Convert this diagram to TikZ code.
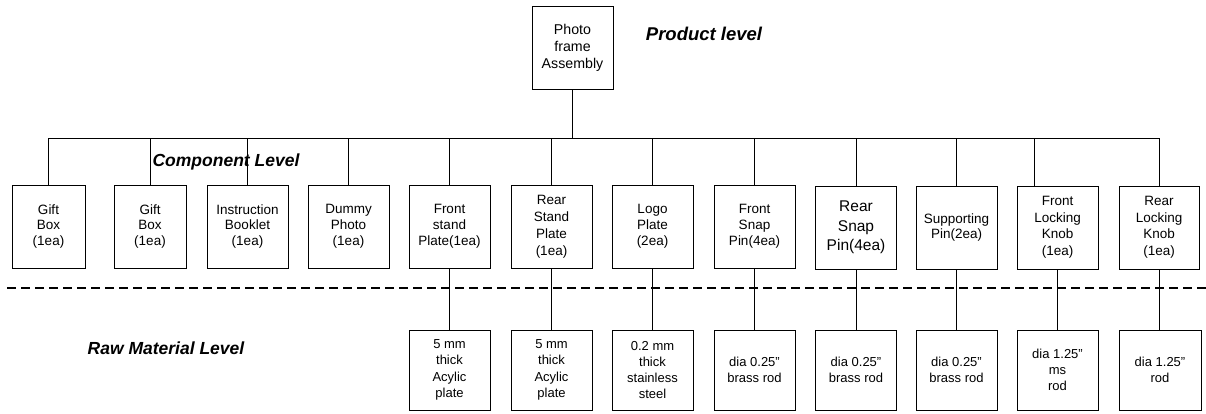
\documentclass[tikz,border=0pt]{standalone}
\usepackage{fontspec}
\setmainfont{Liberation Sans}
\newcommand{\qq}{\symbol{34}}
\begin{document}
\begin{tikzpicture}[x=1pt,y=-1pt,
  line width=0.8pt,
  box/.style={draw, line width=0.8pt, align=center, inner sep=0pt, minimum width=81pt, minimum height=83pt, font=\fontsize{13.5}{15.8}\selectfont},
  narrow/.style={minimum width=73pt},
  raw/.style={draw, line width=0.8pt, align=center, inner sep=0pt, minimum width=81pt, minimum height=80pt, font=\fontsize{13}{16.3}\selectfont},
  lvl/.style={font=\fontsize{17.5}{20}\selectfont\bfseries\itshape, inner sep=0pt},
  conn/.style={line width=0.8pt},
  sep/.style={line width=1.6pt, dash pattern=on 9pt off 5pt}]
\useasboundingbox (0,0) rectangle (1206,414);

% product
\node[box, font=\fontsize{14.2}{17}\selectfont] (top) at (572.5,47.5) {Photo\\frame\\Assembly};
\node[lvl, font=\fontsize{18.5}{20}\selectfont\bfseries\itshape] (plbl) at (704,34) {Product level};

% components
\node[box,narrow] (c1) at (48.5,226.5) {Gift\\Box\\(1ea)};
\node[box,narrow,minimum width=72pt] (c2) at (150,226.5) {Gift\\Box\\(1ea)};
\node[box] (c3) at (247.5,226.5) {Instruction\\Booklet\\(1ea)};
\node[box] (c4) at (348.5,226.5) {Dummy\\Photo\\(1ea)};
\node[box] (c5) at (449.5,226.5) {Front\\stand\\Plate(1ea)};
\node[box, font=\fontsize{13.5}{17}\selectfont] (c6) at (551.5,226.5) {Rear\\Stand\\Plate\\(1ea)};
\node[box] (c7) at (652.5,226.5) {Logo\\Plate\\(2ea)};
\node[box] (c8) at (754.5,226.5) {Front\\Snap\\Pin(4ea)};
\node[box, font=\fontsize{15.5}{19.5}\selectfont] (c9) at (856,227.5) {Rear\\Snap\\Pin(4ea)};
\node[box] (c10) at (956.5,227.5) {Supporting\\Pin(2ea)};
\node[box, font=\fontsize{13.5}{16.5}\selectfont] (c11) at (1057.5,227.5) {Front\\Locking\\Knob\\(1ea)};
\node[box, font=\fontsize{13.5}{16.5}\selectfont, minimum width=80pt] (c12) at (1159,227.5) {Rear\\Locking\\Knob\\(1ea)};
\node[lvl] (clbl) at (226,162) {Component Level};

% raw materials
\node[raw] (r5) at (449.5,370) {5 mm\\thick\\Acylic\\plate};
\node[raw] (r6) at (551.5,370) {5 mm\\thick\\Acylic\\plate};
\node[raw] (r7) at (652.5,370) {0.2 mm\\thick\\stainless\\steel};
\node[raw] (r8) at (754.5,370) {dia 0.25\qq\\brass rod};
\node[raw] (r9) at (856,370) {dia 0.25\qq\\brass rod};
\node[raw] (r10) at (956.5,370) {dia 0.25\qq\\brass rod};
\node[raw] (r11) at (1057.5,370) {dia 1.25\qq\\ms\\rod};
\node[raw, minimum width=82pt] (r12) at (1160,370) {dia 1.25\qq\\rod};
\node[lvl] (rlbl) at (166,348) {Raw Material Level};

% bus
\coordinate (busL) at (48.5,138.5);
\coordinate (busR) at (1159,138.5);
\coordinate (k11) at (1034,138.5);
\draw[conn] (busL) -- (busR);
\draw[conn] (top.south) -- (top.south |- busL);
\foreach \c in {c1,c2,c3,c4,c5,c6,c7,c8,c9,c10,c12}
  \draw[conn] (\c.north) -- (\c.north |- busL);
\draw[conn] (k11) -- (k11 |- c11.north);

% raw connections
\foreach \i in {5,6,7,8,9,10,11,12}
  \draw[conn] (c\i.south) -- (c\i.south |- r\i.north);

% separator
\coordinate (dl) at (7,288);
\coordinate (dr) at (1206,288);
\draw[sep] (dl) -- (dr);
\end{tikzpicture}
\end{document}
